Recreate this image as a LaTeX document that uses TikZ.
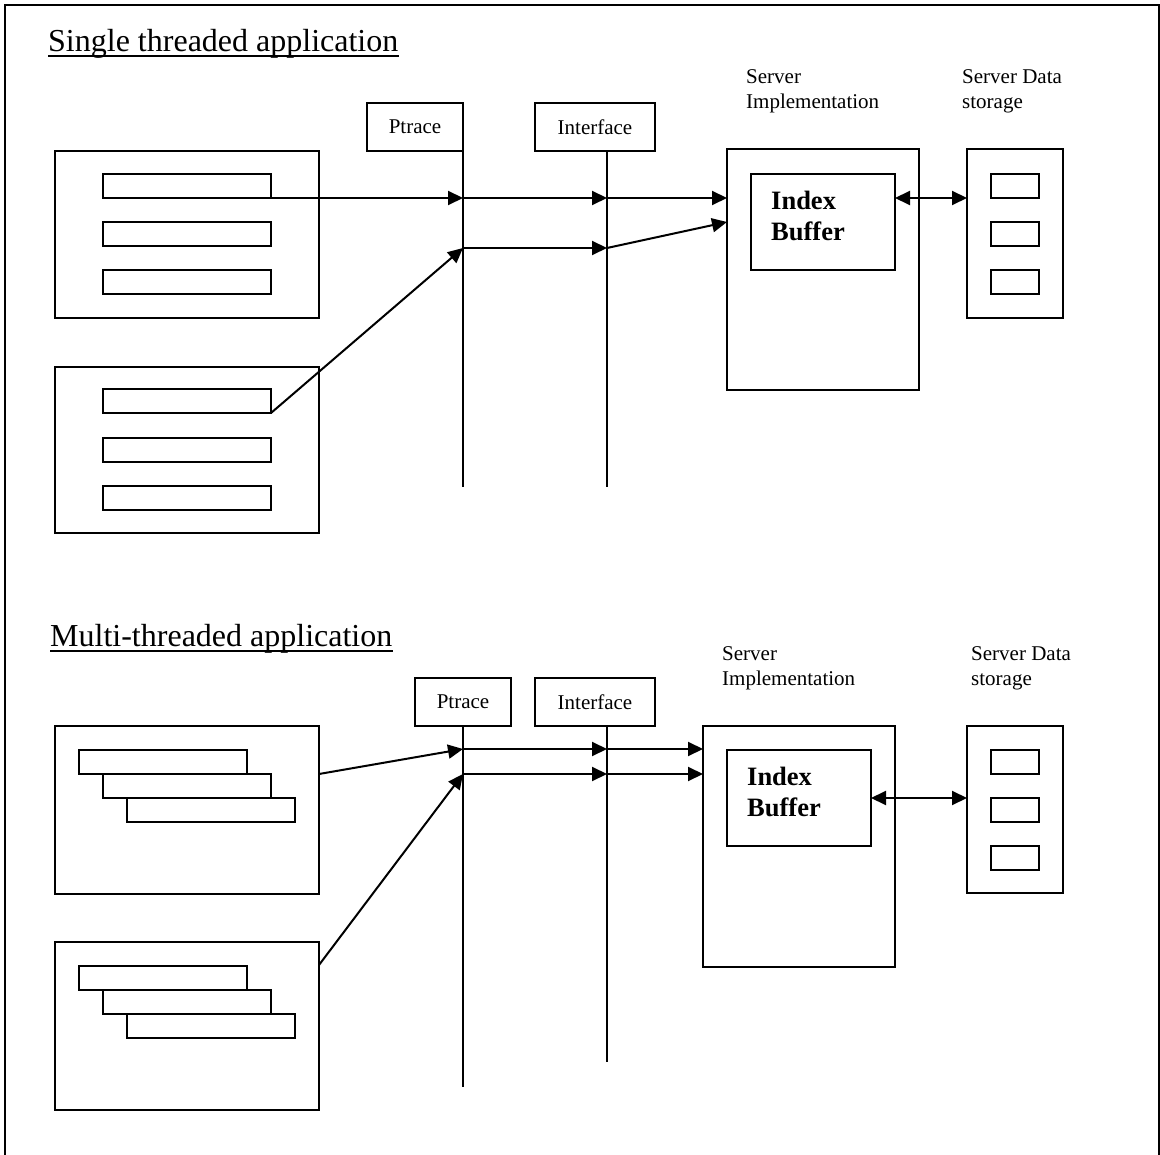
\documentclass[tikz,border=0pt]{standalone}
\usepackage{fontspec}
\setmainfont{Liberation Serif}
\usetikzlibrary{arrows.meta}
\begin{document}
\begin{tikzpicture}[x=1pt,y=-1pt,
  lw/.style={line width=2pt},
  box/.style 2 args={draw,lw,inner sep=0pt,outer sep=0pt,minimum width=#1,minimum height=#2},
  tagtxt/.style={font=\fontsize{21}{25}\selectfont},
  lbl/.style={font=\fontsize{21}{25}\selectfont,inner sep=0pt,align=left,anchor=north west},
  idx/.style={font=\fontsize{26.5}{31}\selectfont\bfseries,inner sep=0pt,align=left,anchor=north west},
  ttl/.style={font=\fontsize{32}{38}\selectfont,inner sep=0pt,anchor=base west},
  arr/.style={lw,-{Triangle[length=15pt,width=14pt]}},
  dbl/.style={lw,{Triangle[length=15pt,width=14pt]}-{Triangle[length=15pt,width=14pt]}},
  lifeline/.style={lw}]
\useasboundingbox (0,0) rectangle (1160,1155);
% frame
\draw[lw] (5,1155) -- (5,5) -- (1158.5,5) -- (1158.5,1155);

% ================= Single threaded =================
\node[ttl] (t1) at (48,52) {Single threaded application};
\draw[lw] ([yshift=-4.5pt]t1.base west) -- ([yshift=-4.5pt]t1.base east);

\node[box={264pt}{167pt}] (app1) at (187,234.5) {};
\node[box={168pt}{24pt}] (a1b1) at (187,186) {};
\node[box={168pt}{24pt}] (a1b2) at (187,234) {};
\node[box={168pt}{24pt}] (a1b3) at (187,282) {};

\node[box={264pt}{166pt}] (app2) at (187,450) {};
\node[box={168pt}{24pt}] (a2b1) at (187,401) {};
\node[box={168pt}{24pt}] (a2b2) at (187,450) {};
\node[box={168pt}{24pt}] (a2b3) at (187,498) {};

\node[box={96pt}{48pt},tagtxt] (ptr1) at (415,127) {Ptrace};
\node[box={120pt}{48pt},tagtxt] (int1) at (595,127) {Interface};

\node[lbl] (srvl1) at (746,69) {Server\\Implementation};
\node[lbl] (stol1) at (962,69) {Server Data\\storage};

\node[box={192pt}{241pt}] (srv1) at (823,269.5) {};
\node[box={144pt}{96pt}] (idx1) at (823,222) {};
\node[idx] (idxt1) at (771,191) {Index\\Buffer};

\node[box={96pt}{169pt}] (sto1) at (1015,233.5) {};
\node[box={48pt}{24pt}] (s1a) at (1015,186) {};
\node[box={48pt}{24pt}] (s1b) at (1015,234) {};
\node[box={48pt}{24pt}] (s1c) at (1015,282) {};

% lifelines
\coordinate (p1a) at (463,198);
\coordinate (p1b) at (463,248);
\coordinate (i1a) at (607,198);
\coordinate (i1b) at (607,248);
\coordinate (p1end) at (463,487);
\coordinate (i1end) at (607,487);
\coordinate (srv1in) at (727,222);
\draw[lifeline] (ptr1.south east) -- (p1end);
\draw[lifeline] (i1a |- int1.south) -- (i1end);

% arrows
\draw[arr] (a1b1.south east) -- (p1a);
\draw[arr] (p1a) -- (i1a);
\draw[arr] (i1a) -- (srv1.west |- i1a);
\draw[arr] (a2b1.south east) -- (p1b);
\draw[arr] (p1b) -- (i1b);
\draw[arr] (i1b) -- (srv1in);
\draw[dbl] (idx1.east |- p1a) -- (sto1.west |- p1a);

% ================= Multi-threaded =================
\node[ttl] (t2) at (50,646) {Multi-threaded application};
\draw[lw] ([yshift=-4.5pt]t2.base west) -- ([yshift=-4.5pt]t2.base east);

\node[box={264pt}{168pt}] (app3) at (187,810) {};
\node[box={168pt}{24pt}] (a3b1) at (163,762) {};
\node[box={168pt}{24pt}] (a3b2) at (187,786) {};
\node[box={168pt}{24pt}] (a3b3) at (211,810) {};

\node[box={264pt}{168pt}] (app4) at (187,1026) {};
\node[box={168pt}{24pt}] (a4b1) at (163,978) {};
\node[box={168pt}{24pt}] (a4b2) at (187,1002) {};
\node[box={168pt}{24pt}] (a4b3) at (211,1026) {};

\node[box={96pt}{48pt},tagtxt] (ptr2) at (463,702) {Ptrace};
\node[box={120pt}{48pt},tagtxt] (int2) at (595,702) {Interface};

\node[lbl] (srvl2) at (722,646) {Server\\Implementation};
\node[lbl] (stol2) at (971,646) {Server Data\\storage};

\node[box={192pt}{241pt}] (srv2) at (799,846.5) {};
\node[box={144pt}{96pt}] (idx2) at (799,798) {};
\node[idx] (idxt2) at (747,767) {Index\\Buffer};

\node[box={96pt}{167pt}] (sto2) at (1015,809.5) {};
\node[box={48pt}{24pt}] (s2a) at (1015,762) {};
\node[box={48pt}{24pt}] (s2b) at (1015,810) {};
\node[box={48pt}{24pt}] (s2c) at (1015,858) {};

\coordinate (p2a) at (463,749);
\coordinate (p2b) at (463,774);
\coordinate (i2a) at (607,749);
\coordinate (i2b) at (607,774);
\coordinate (p2end) at (463,1087);
\coordinate (i2end) at (607,1062);
\coordinate (app3out) at (319,774);
\coordinate (app4out) at (319,965);
\draw[lifeline] (ptr2.south) -- (p2end);
\draw[lifeline] (i2a |- int2.south) -- (i2end);

\draw[arr] (app3out) -- (p2a);
\draw[arr] (p2a) -- (i2a);
\draw[arr] (i2a) -- (srv2.west |- i2a);
\draw[arr] (app4out) -- (p2b);
\draw[arr] (p2b) -- (i2b);
\draw[arr] (i2b) -- (srv2.west |- i2b);
\draw[dbl] (idx2.east) -- (sto2.west |- idx2.east);
\end{tikzpicture}
\end{document}
